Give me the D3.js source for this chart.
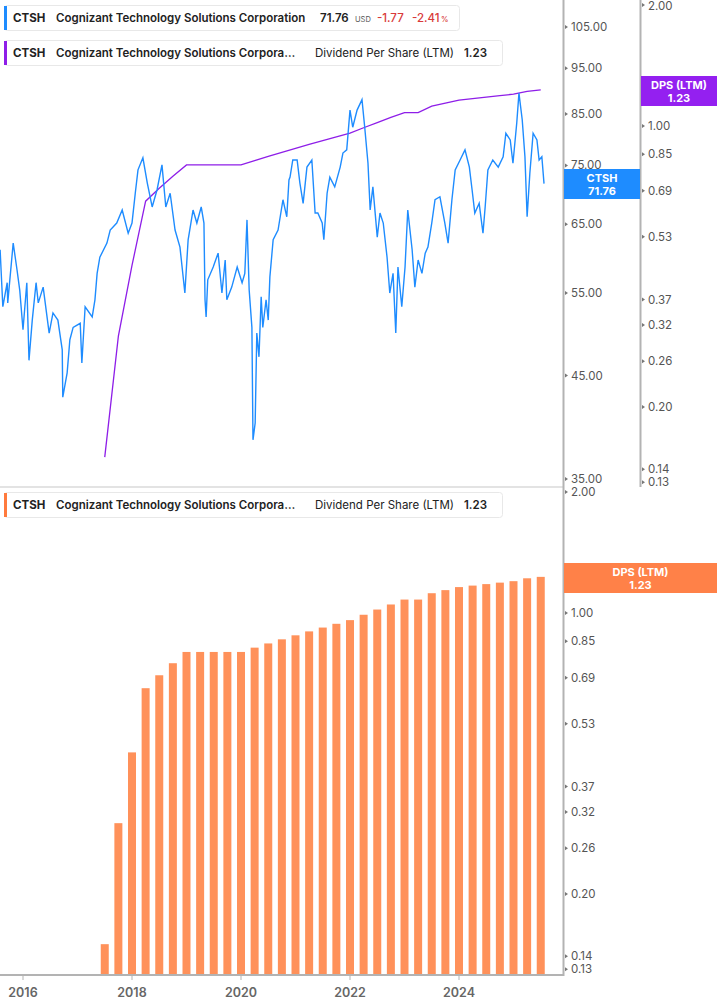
<!DOCTYPE html>
<html><head><meta charset="utf-8">
<script src="https://cdn.jsdelivr.net/npm/d3@7"></script>
<style>body{margin:0;background:#fff;font-family:Inter,Roboto,sans-serif}svg{display:block}</style>
</head><body><svg id="c" width="717" height="1005"></svg>
<script>
const priceDates=[2015.58,2015.63,2015.71,2015.72,2015.82,2015.89,2015.94,2016.00,2016.07,2016.11,2016.17,2016.24,2016.28,2016.37,2016.48,2016.55,2016.64,2016.72,2016.73,2016.81,2016.86,2016.92,2017.05,2017.08,2017.14,2017.27,2017.32,2017.36,2017.41,2017.54,2017.60,2017.72,2017.82,2017.93,2018.00,2018.06,2018.11,2018.20,2018.28,2018.37,2018.46,2018.55,2018.62,2018.70,2018.79,2018.88,2018.97,2019.03,2019.12,2019.19,2019.27,2019.32,2019.34,2019.36,2019.39,2019.49,2019.58,2019.65,2019.71,2019.74,2019.83,2019.93,2020.02,2020.07,2020.11,2020.15,2020.20,2020.22,2020.26,2020.29,2020.33,2020.37,2020.40,2020.46,2020.50,2020.53,2020.59,2020.68,2020.77,2020.84,2020.88,2020.90,2020.95,2021.03,2021.08,2021.14,2021.21,2021.30,2021.36,2021.41,2021.49,2021.52,2021.58,2021.63,2021.72,2021.82,2021.87,2021.94,2022.00,2022.05,2022.13,2022.22,2022.27,2022.33,2022.37,2022.42,2022.50,2022.55,2022.61,2022.68,2022.73,2022.79,2022.84,2022.88,2022.95,2023.01,2023.06,2023.14,2023.19,2023.25,2023.32,2023.38,2023.43,2023.50,2023.56,2023.65,2023.74,2023.80,2023.87,2023.93,2024.02,2024.11,2024.19,2024.24,2024.29,2024.37,2024.44,2024.48,2024.53,2024.62,2024.72,2024.81,2024.86,2024.94,2024.99,2025.06,2025.10,2025.16,2025.21,2025.25,2025.30,2025.36,2025.43,2025.47,2025.52,2025.56];
const priceValues=[61.1,53.2,56.4,53.7,62.1,58.2,55.4,50.3,56.4,46.7,51.5,56.4,53.7,55.8,49.9,52.4,51.5,47.9,42.7,45.3,49.1,50.6,51.1,46.4,53.2,51.9,54.1,57.7,60.0,62.1,64.1,65.2,67.3,63.6,65.2,70.1,74.2,76.4,71.9,67.8,70.7,75.1,67.8,70.1,64.1,61.5,55.0,62.6,67.3,65.2,67.8,65.2,54.1,51.9,56.8,58.6,60.6,55.0,59.6,54.1,55.8,58.6,56.4,57.7,65.7,55.4,50.6,38.5,40.1,49.9,47.1,54.5,50.6,54.1,51.5,57.2,62.6,64.1,69.0,66.2,72.4,72.9,76.0,76.0,71.9,68.4,74.7,76.0,66.8,66.8,65.2,62.6,70.1,72.9,71.2,74.7,77.3,77.9,85.8,82.3,85.8,88.0,82.3,75.4,67.3,71.2,63.0,66.8,65.2,60.0,55.0,57.7,49.9,58.6,53.2,58.6,67.3,61.1,55.8,59.6,57.7,60.6,61.5,65.2,69.0,69.5,65.2,62.1,69.0,74.2,76.0,77.9,74.7,70.7,66.8,68.4,63.6,67.8,74.2,76.0,74.7,76.6,81.1,79.8,75.4,83.2,89.4,83.8,76.6,66.2,73.6,81.1,79.8,76.0,76.6,71.76];
const dpsDates=[2017.5,2017.75,2018.0,2018.25,2018.5,2018.75,2019.0,2019.25,2019.5,2019.75,2020.0,2020.25,2020.5,2020.75,2021.0,2021.25,2021.5,2021.75,2022.0,2022.25,2022.5,2022.75,2023.0,2023.25,2023.5,2023.75,2024.0,2024.25,2024.5,2024.75,2025.0,2025.25,2025.5];
const dpsValues=[0.15,0.30,0.45,0.65,0.70,0.75,0.80,0.80,0.80,0.80,0.80,0.82,0.84,0.86,0.88,0.90,0.92,0.94,0.96,0.99,1.02,1.05,1.08,1.08,1.12,1.14,1.16,1.17,1.18,1.19,1.20,1.22,1.23];
const priceTicks=[105,95,85,75,65,55,45,35];
const dpsTicks=[2.00,1.00,0.85,0.69,0.53,0.37,0.32,0.26,0.20,0.14,0.13];
const yearTicks=[2016,2018,2020,2022,2024];

const svg=d3.select("#c");
const grey="#b3b3b3", txt="#555";
const x=d3.scaleLinear().domain([2016,2024]).range([23,459]);
const yP=d3.scaleLog().domain([105,35]).range([27,479]);
const yD1=d3.scaleLog().domain([2,1]).range([5,126]);
const yD2=d3.scaleLog().domain([2,1]).range([492,613]);
const BLUE="#1e8cff", PURPLE="#8e1ee8", ORANGE="#ff915a";

svg.append("g").selectAll("rect").data(dpsDates).join("rect")
 .attr("x",(d)=>x(d)-4).attr("width",8)
 .attr("y",(d,i)=>yD2(dpsValues[i])).attr("height",(d,i)=>975-yD2(dpsValues[i]))
 .attr("fill",ORANGE);

svg.append("path").datum(dpsDates).attr("fill","none").attr("stroke",PURPLE).attr("stroke-width",1.3)
 .attr("d",d3.line().x(d=>x(d)).y((d,i)=>yD1(dpsValues[i])));
svg.append("path").datum(priceDates).attr("fill","none").attr("stroke",BLUE).attr("stroke-width",1.4)
 .attr("d",d3.line().x(d=>x(d)).y((d,i)=>yP(priceValues[i])));

svg.append("rect").attr("x",0).attr("y",486).attr("width",563).attr("height",2).attr("fill","#e3e3e3");
svg.append("line").attr("x1",563.5).attr("x2",563.5).attr("y1",0).attr("y2",976).attr("stroke",grey).attr("stroke-width",2);
svg.append("line").attr("x1",640.5).attr("x2",640.5).attr("y1",0).attr("y2",487).attr("stroke",grey).attr("stroke-width",2);
svg.append("line").attr("x1",0).attr("x2",564).attr("y1",975).attr("y2",975).attr("stroke",grey).attr("stroke-width",2);

function ticks(vals,scale,x0,fmt){
  const g=svg.append("g");
  vals.forEach(v=>{
    const y=scale(v);
    g.append("path").attr("d",`M${x0+2},${y-2}L${x0+5},${y}L${x0+2},${y+2}Z`).attr("fill","#777");
    g.append("text").attr("x",x0+8).attr("y",Math.max(y+4,10)).attr("font-size",11.5).attr("fill",txt).text(fmt(v));
  });
}
ticks(priceTicks,yP,563,d3.format(".2f"));
ticks(dpsTicks,yD1,640,d3.format(".2f"));
ticks(dpsTicks,yD2,563,d3.format(".2f"));
yearTicks.forEach(t=>{
  svg.append("line").attr("x1",x(t)).attr("x2",x(t)).attr("y1",975).attr("y2",980).attr("stroke",grey);
  svg.append("text").attr("x",x(t)).attr("y",997).attr("text-anchor","middle").attr("font-size",12.5).attr("font-weight",600).attr("fill","#666").text(t);
});

function tag(x0,y0,w,h,col,l1,l2){
  svg.append("rect").attr("x",x0).attr("y",y0).attr("width",w).attr("height",h).attr("fill",col);
  svg.append("text").attr("x",x0+w/2).attr("y",y0+h/2-2).attr("text-anchor","middle").attr("font-size",11).attr("font-weight",700).attr("fill","#fff").text(l1);
  svg.append("text").attr("x",x0+w/2).attr("y",y0+h/2+11).attr("text-anchor","middle").attr("font-size",11).attr("font-weight",700).attr("fill","#fff").text(l2);
}
tag(564,169,76,30,BLUE,"CTSH",d3.format(".2f")(priceValues[priceValues.length-1]));
tag(641,76,76,30,"#9420f0","DPS (LTM)",d3.format(".2f")(dpsValues[dpsValues.length-1]));
tag(564,563,153,30,"#ff8148","DPS (LTM)",d3.format(".2f")(dpsValues[dpsValues.length-1]));

function box(y0,w,col,parts){
  svg.append("rect").attr("x",4.5).attr("y",y0+0.5).attr("width",w).attr("height",25).attr("rx",3).attr("fill","#fff").attr("stroke","#e8e8e8");
  svg.append("rect").attr("x",4).attr("y",y0+1).attr("width",3).attr("height",24).attr("fill",col);
  const t=svg.append("text").attr("y",y0+17).attr("font-size",11.5).attr("fill","#222");
  parts.forEach(p=>{t.append("tspan").attr("x",p.x).attr("font-weight",p.w||600).attr("font-size",p.s||11.5).attr("fill",p.c||"#222").text(p.t);});
}
box(5,455,BLUE,[{x:13,t:"CTSH",w:700},{x:56,t:"Cognizant Technology Solutions Corporation",w:600},{x:320,t:"71.76",w:600},{x:355,t:"USD",s:7.5,w:400,c:"#555"},{x:377,t:"-1.77",c:"#d93a3a",w:500},{x:412,t:"-2.41",c:"#d93a3a",w:500},{x:441,t:"%",s:7.5,c:"#d93a3a",w:500}]);
box(40,498,PURPLE,[{x:13,t:"CTSH",w:700},{x:56,t:"Cognizant Technology Solutions Corpora…",w:600},{x:315,t:"Dividend Per Share (LTM)",w:400},{x:464,t:"1.23",w:600}]);
box(492,498,"#ff7a3d",[{x:13,t:"CTSH",w:700},{x:56,t:"Cognizant Technology Solutions Corpora…",w:600},{x:315,t:"Dividend Per Share (LTM)",w:400},{x:464,t:"1.23",w:600}]);
</script></body></html>
